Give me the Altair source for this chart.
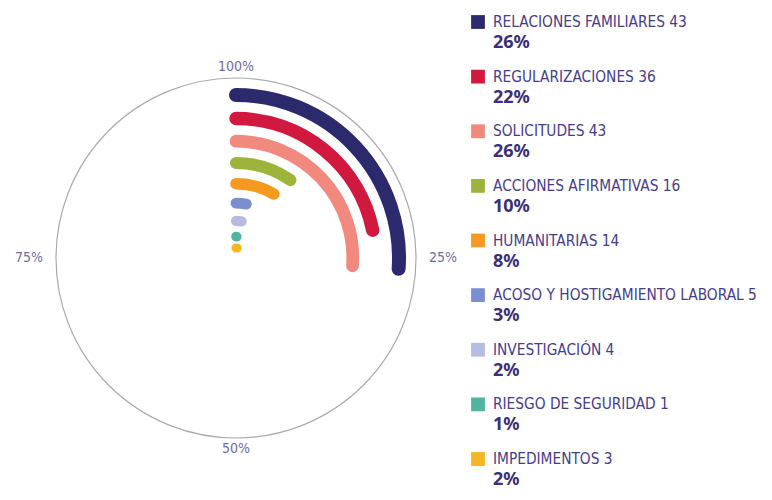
import math
import altair as alt
import pandas as pd

# ---- data ----
categories = [
    "RELACIONES FAMILIARES",
    "REGULARIZACIONES",
    "SOLICITUDES",
    "ACCIONES AFIRMATIVAS",
    "HUMANITARIAS",
    "ACOSO Y HOSTIGAMIENTO LABORAL",
    "INVESTIGACIÓN",
    "RIESGO DE SEGURIDAD",
    "IMPEDIMENTOS",
]
values = [43, 36, 43, 16, 14, 5, 4, 1, 3]
percents = ["26%", "22%", "26%", "10%", "8%", "3%", "2%", "1%", "2%"]
colors = ["#2c2a6c", "#d1193f", "#f2897f", "#9db43a", "#f5991f",
          "#7b8fd0", "#b8bbe0", "#4fb5a1", "#f6b523"]

ring_labels = ["100%", "25%", "50%", "75%"]
ring_pos = [0.0, 0.25, 0.5, 0.75]

total = sum(values)
n = len(categories)

df = pd.DataFrame({
    "cat": categories,
    "value": values,
    "zero": [0] * n,
    "row": list(range(n)),
    "ring": [n - 1 - i for i in range(n)],
    "label": [f"{c} {v}" for c, v in zip(categories, values)],
    "pct": percents,
})
ring_df = pd.DataFrame({"lab": ring_labels, "pos": ring_pos})
circle_df = pd.DataFrame({"c": [0]})

CX, CY = 228, 250
label_font = "Liberation Sans Narrow, DejaVu Sans Condensed, Roboto, sans-serif"
text_color = "#463c8c"

color_scale = alt.Scale(domain=categories, range=colors)
pos_theta = alt.Theta("pos:Q", stack=None,
                      scale=alt.Scale(domain=[0, 1], range=[0, 2 * math.pi]))

# outer circle
circle = alt.Chart(circle_df).mark_arc(
    filled=False, stroke="#a9a9b0", strokeWidth=1.2
).encode(
    theta=alt.value(0), theta2=alt.value(2 * math.pi),
    radius=alt.value(180), radius2=alt.value(0),
    x=alt.value(CX), y=alt.value(CY),
)

# percentage labels around the circle
ring_text_v = alt.Chart(ring_df).transform_filter(
    "datum.pos == 0 || datum.pos == 0.5"
).mark_text(
    font=label_font, fontSize=14, color="#6f6b9c", align="center", baseline="middle"
).encode(
    theta=pos_theta, radius=alt.value(191), text="lab:N",
    x=alt.value(CX), y=alt.value(CY),
)
ring_text_h = alt.Chart(ring_df).transform_filter(
    "datum.pos == 0.25 || datum.pos == 0.75"
).mark_text(
    font=label_font, fontSize=14, color="#6f6b9c", align="center", baseline="middle"
).encode(
    theta=pos_theta, radius=alt.value(207), text="lab:N",
    x=alt.value(CX), y=alt.value(CY),
)

# radial bars
arcs = alt.Chart(df).mark_arc(
    filled=False, strokeJoin="round", strokeCap="round"
).encode(
    theta=alt.Theta("value:Q", stack=None,
                    scale=alt.Scale(domain=[0, total], range=[0, 2 * math.pi])),
    theta2="zero:Q",
    radius=alt.Radius("ring:Q", scale=alt.Scale(type="pow", exponent=1.25,
                                                domain=[0, n - 1], range=[10, 163])),
    radius2="ring:Q",
    color=alt.Color("cat:N", scale=color_scale, legend=None),
    strokeWidth=alt.StrokeWidth("ring:Q", scale=alt.Scale(domain=[0, n - 1], range=[9, 14]),
                                legend=None),
    x=alt.value(CX), y=alt.value(CY),
)

yscale = alt.Scale(domain=[0, n - 1], range=[14, 451])

squares = alt.Chart(df).mark_square(size=190, opacity=1).encode(
    x=alt.value(470),
    y=alt.Y("row:Q", scale=yscale, axis=None),
    color=alt.Color("cat:N", scale=color_scale, legend=None),
)

labels = alt.Chart(df).mark_text(
    align="left", baseline="middle", font=label_font, fontSize=15.3, color=text_color
).encode(
    x=alt.value(485),
    y=alt.Y("row:Q", scale=yscale, axis=None),
    text="label:N",
)

pcts = alt.Chart(df).mark_text(
    align="left", baseline="middle", font="Noto Sans, sans-serif", fontSize=18,
    fontWeight="bold", color="#3a2f78", dy=21
).encode(
    x=alt.value(485),
    y=alt.Y("row:Q", scale=yscale, axis=None),
    text="pct:N",
)

chart = alt.layer(circle, ring_text_v, ring_text_h, arcs, squares, labels, pcts).resolve_scale(
    theta="independent", radius="independent", strokeWidth="independent"
).properties(
    width=756, height=484, padding=0, autosize="none", background="white"
).configure_view(stroke=None)

chart.save("out.html", embed_options={"renderer": "svg", "actions": False})
